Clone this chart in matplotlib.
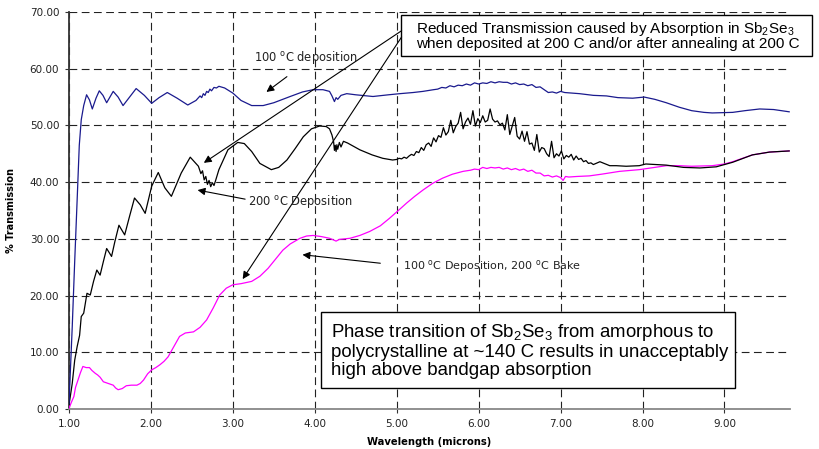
import matplotlib
matplotlib.use("Agg")
import matplotlib.pyplot as plt
from matplotlib.patches import Rectangle

plt.rcParams['mathtext.default'] = 'regular'

# ---------------- data ----------------
x_axis_ticks = [1.00, 2.00, 3.00, 4.00, 5.00, 6.00, 7.00, 8.00, 9.00]
y_axis_ticks = [0, 10, 20, 30, 40, 50, 60, 70]

# 100 C deposition (blue)
blue_x = [1.00, 1.01, 1.04, 1.07, 1.10, 1.126, 1.15, 1.18, 1.215, 1.25, 1.285, 1.33, 1.37, 1.415,
          1.46, 1.50, 1.54, 1.60, 1.66, 1.74, 1.82, 1.92, 2.01, 2.10, 2.20, 2.32, 2.45, 2.55,
          2.60, 2.62, 2.64, 2.66, 2.68, 2.70, 2.72, 2.74, 2.77, 2.80, 2.83, 2.90, 3.00, 3.10,
          3.23, 3.37, 3.50, 3.70, 3.85, 3.98, 4.10, 4.18, 4.21, 4.24, 4.26, 4.28, 4.32, 4.39,
          4.50, 4.71, 4.90, 5.04, 5.20, 5.32, 5.45,
          5.50, 5.55, 5.60, 5.65, 5.70, 5.75, 5.80, 5.85, 5.90, 5.95, 6.00, 6.05, 6.10, 6.15,
          6.20, 6.25, 6.30, 6.35, 6.40, 6.45, 6.50, 6.55, 6.60, 6.65, 6.70, 6.75, 6.80, 6.85,
          6.90, 6.95, 7.00, 7.05,
          7.23, 7.40, 7.56, 7.70, 7.88, 8.02, 8.15, 8.29, 8.45, 8.60, 8.75, 8.85, 9.10, 9.25,
          9.43, 9.60, 9.79]
blue_y = [1.0, 4.2, 14.5, 26.0, 36.9, 46.5, 51.0, 53.5, 55.4, 54.5, 52.9, 54.8, 56.1, 55.3,
          54.0, 55.0, 56.0, 55.0, 53.5, 55.0, 56.5, 55.3, 53.9, 54.9, 55.8, 54.8, 53.6, 54.4,
          55.2, 54.9, 55.6, 55.3, 56.0, 55.8, 56.4, 56.1, 56.7, 56.6, 56.9, 56.6, 55.7, 54.4,
          53.5, 53.5, 54.0, 55.1, 55.9, 56.3, 56.3, 56.0, 55.2, 54.2, 54.9, 54.6, 55.3, 55.6,
          55.4, 55.1, 55.4, 55.6, 55.8, 56.0, 56.3,
          56.4, 56.7, 56.6, 57.0, 56.8, 57.1, 57.0, 57.3, 57.1, 57.5, 57.3, 57.5, 57.4, 57.7,
          57.5, 57.7, 57.6, 57.6, 57.3, 57.5, 57.2, 57.3, 57.0, 57.2, 56.7, 56.8, 56.3, 55.8,
          55.9, 55.7, 56.0, 55.8,
          55.6, 55.3, 55.2, 54.9, 54.8, 55.0, 54.6, 54.0, 53.2, 52.6, 52.3, 52.2, 52.3, 52.6,
          52.9, 52.8, 52.4]

# 200 C deposition (black)
black_x = [1.00, 1.01, 1.04, 1.07, 1.10, 1.13, 1.15, 1.18, 1.22, 1.26, 1.30, 1.34, 1.38, 1.42,
           1.46, 1.52, 1.56, 1.61, 1.68, 1.74, 1.80, 1.87, 1.93, 2.01, 2.09, 2.17, 2.25, 2.37,
           2.48, 2.58, 2.61, 2.63, 2.65, 2.67, 2.69, 2.71, 2.73, 2.75, 2.77, 2.79, 2.83, 2.94,
           3.06, 3.14, 3.23, 3.33, 3.47, 3.56, 3.66, 3.76, 3.86, 3.96, 4.06, 4.14, 4.18, 4.21,
           4.23, 4.24, 4.25, 4.26, 4.27, 4.28, 4.30, 4.32, 4.35, 4.40, 4.55, 4.70, 4.83, 4.95,
           5.00, 5.03, 5.06, 5.09, 5.12, 5.15, 5.18, 5.21, 5.24, 5.27, 5.30, 5.33, 5.36, 5.39,
           5.42, 5.45, 5.48, 5.51, 5.54, 5.57, 5.60, 5.63, 5.66, 5.69, 5.72, 5.75, 5.78, 5.81,
           5.84, 5.87, 5.90, 5.93, 5.96, 5.99, 6.02, 6.05, 6.08, 6.11, 6.14, 6.17, 6.20, 6.23,
           6.26, 6.29, 6.32, 6.35, 6.38, 6.41, 6.44, 6.47, 6.50, 6.53, 6.56, 6.59, 6.62, 6.65,
           6.68, 6.71, 6.74, 6.77, 6.80, 6.83, 6.86, 6.89, 6.92, 6.95, 6.98, 7.01, 7.04, 7.07,
           7.10, 7.13, 7.16, 7.19, 7.22, 7.25, 7.28, 7.31, 7.34, 7.37, 7.40,
           7.48, 7.60, 7.68, 7.80, 7.96, 8.04, 8.29, 8.50, 8.70, 8.90, 9.10, 9.34, 9.55, 9.79]
black_y = [0.8, 1.6, 4.5, 8.6, 11.0, 13.0, 16.3, 16.9, 20.4, 20.1, 22.5, 24.5, 23.6, 26.0,
           28.3, 26.9, 29.5, 32.4, 30.7, 34.0, 37.2, 36.0, 34.5, 39.3, 41.7, 39.0, 37.5, 41.6,
           44.4, 42.8, 41.5, 42.0, 40.4, 41.0, 39.6, 40.3, 39.2, 39.9, 39.4, 40.3, 42.2, 45.7,
           47.0, 46.8, 45.4, 43.3, 42.2, 42.6, 43.9, 45.9, 48.0, 49.4, 49.9, 49.8, 49.4, 48.3,
           47.1, 45.6, 46.5, 45.4, 46.6, 45.8, 47.0, 46.2, 47.2, 46.9, 45.7, 44.8, 44.2, 43.9,
           44.0, 44.2, 44.1, 44.4, 44.2, 44.6, 44.9, 44.7, 45.4, 45.2, 46.1, 45.6, 46.6, 46.9,
           46.3, 47.8, 47.1, 48.2, 47.9, 49.6, 48.3, 48.9, 50.9, 48.7, 49.8, 50.4, 52.3, 49.4,
           50.6, 51.3, 50.2, 52.6, 49.9, 51.2, 50.5, 51.7, 50.6, 50.9, 52.9, 51.1, 50.6, 50.8,
           50.1, 50.4, 49.2, 51.9, 48.4, 49.9, 51.4, 48.1, 47.6, 49.0, 47.2, 48.9, 46.7, 46.9,
           45.6, 48.4, 45.3, 46.1, 45.9, 45.0, 44.5, 47.2, 44.3, 45.0, 44.6, 45.5, 44.1, 44.7,
           44.4, 44.9, 43.9, 44.6, 44.0, 44.2, 43.6, 43.8, 43.3, 43.4, 43.1,
           43.6, 42.9, 42.9, 42.8, 42.9, 43.2, 43.0, 42.6, 42.5, 42.7, 43.5, 44.8, 45.3, 45.5]

# 100 C deposition, 200 C bake (magenta)
mag_x = [1.00, 1.03, 1.06, 1.08, 1.11, 1.14, 1.17, 1.21, 1.25, 1.28, 1.32, 1.35, 1.38, 1.42,
         1.46, 1.50, 1.54, 1.57, 1.60, 1.65, 1.70, 1.76, 1.83, 1.87, 1.91, 1.96, 2.01, 2.06,
         2.11, 2.16, 2.21, 2.28, 2.35, 2.42, 2.52, 2.60, 2.68, 2.76, 2.84, 2.92, 3.00, 3.10,
         3.23, 3.33, 3.43, 3.52, 3.61, 3.70, 3.82, 3.90, 3.98, 4.08, 4.18, 4.23, 4.26, 4.30,
         4.43, 4.55, 4.67, 4.80, 4.91, 5.02, 5.12, 5.22, 5.32, 5.44, 5.56, 5.68, 5.81,
         5.90, 5.95, 6.00, 6.05, 6.10, 6.15, 6.20, 6.25, 6.30, 6.35, 6.40, 6.45, 6.50, 6.55,
         6.60, 6.65, 6.70, 6.75, 6.80, 6.85, 6.90, 6.95, 7.00, 7.03, 7.06,
         7.10, 7.20, 7.35, 7.50, 7.72, 7.96, 8.15, 8.29, 8.45, 8.60, 8.85, 9.00, 9.10, 9.34,
         9.55, 9.79]
mag_y = [0.1, 1.2, 2.2, 3.8, 5.1, 6.4, 7.5, 7.3, 7.3, 6.8, 6.3, 6.0, 5.6, 4.8,
         4.6, 4.4, 4.2, 3.7, 3.4, 3.6, 4.1, 4.2, 4.2, 4.5, 5.1, 6.2, 6.9, 7.3,
         7.8, 8.4, 9.2, 11.0, 12.8, 13.4, 13.6, 14.4, 15.7, 17.8, 20.1, 21.3, 21.9, 22.1,
         22.5, 23.4, 24.8, 26.4, 28.0, 29.1, 30.1, 30.5, 30.6, 30.4, 30.1, 29.8, 29.6, 29.9,
         30.1, 30.6, 31.3, 32.3, 33.6, 35.0, 36.3, 37.5, 38.6, 39.8, 40.7, 41.4, 41.9,
         42.1, 42.3, 42.2, 42.6, 42.4, 42.6, 42.5, 42.6, 42.3, 42.5, 42.2, 42.4, 42.1, 42.3,
         41.9, 42.1, 41.6, 41.6, 41.1, 41.2, 40.9, 41.1, 40.8, 40.3, 41.0,
         40.9, 41.0, 41.1, 41.4, 41.9, 42.2, 42.6, 42.9, 42.9, 42.8, 42.9, 43.2, 43.6, 44.8,
         45.3, 45.5]

# ---------------- figure ----------------
fig = plt.figure(figsize=(8.19, 4.49), dpi=100)
ax = fig.add_axes([0.0842, 0.0891, 0.8804, 0.8842])

ax.plot(mag_x, mag_y, color='#ff00ff', lw=0.9, zorder=3)
ax.plot(black_x, black_y, color='black', lw=0.9, zorder=4)
ax.plot(blue_x, blue_y, color='#1a1a8e', lw=0.9, zorder=5)

ax.set_xlim(1.0, 9.8)
ax.set_ylim(0, 70)
ax.set_xticks(x_axis_ticks)
ax.set_yticks(y_axis_ticks)
ax.set_xticklabels([f"{v:.2f}" for v in x_axis_ticks])
ax.set_yticklabels([f"{v:.2f}" for v in y_axis_ticks])

ax.grid(True, color='#222222', lw=0.8, linestyle=(0, (7, 4)))
ax.set_axisbelow(True)

for s in ('top', 'right'):
    ax.spines[s].set_visible(False)
ax.spines['left'].set_color('#333333')
ax.spines['left'].set_linewidth(1.3)
ax.spines['bottom'].set_color('#888888')
ax.spines['bottom'].set_linewidth(1.3)

ax.tick_params(axis='both', length=3, width=0.8, color='#333333',
               labelsize=7.5, labelcolor='#222222', pad=4)
for lab in ax.get_xticklabels() + ax.get_yticklabels():
    lab.set_family('DejaVu Sans')

ax.set_xlabel('Wavelength (microns)', fontsize=7.2, fontweight='bold',
              family='DejaVu Sans', labelpad=6)
ax.set_ylabel('% Transmission', fontsize=7, fontweight='bold',
              family='DejaVu Sans', labelpad=10)

arrow = dict(arrowstyle='-|>', color='black', lw=0.8, mutation_scale=11,
             shrinkA=0, shrinkB=0)

# top-right box
ax.add_patch(Rectangle((5.05, 62.3), 5.02, 7.2, fill=True, facecolor='white',
                       edgecolor='black', lw=1.0, clip_on=False, zorder=6))
ax.text(5.23, 65.85, 'Reduced Transmission caused by Absorption in Sb$_2$Se$_3$\n'
        'when deposited at 200 C and/or after annealing at 200 C',
        family='Liberation Sans', fontsize=11.0, ha='left', va='center',
        linespacing=0.88, zorder=7, clip_on=False)
ax.annotate('', xy=(2.646, 43.4), xytext=(5.06, 66.7), arrowprops=arrow, zorder=6)
ax.annotate('', xy=(3.12, 22.9), xytext=(5.06, 65.6), arrowprops=arrow, zorder=6)

# small labels
ax.text(3.89, 61.9, '100 $^{o}$C deposition', family='DejaVu Sans', fontsize=8.3,
        ha='center', va='center', color='#222222', zorder=6)
ax.annotate('', xy=(3.41, 55.9), xytext=(3.66, 58.6), arrowprops=arrow, zorder=6)

ax.text(3.19, 36.5, '200 $^{o}$C Deposition', family='DejaVu Sans', fontsize=8.3,
        ha='left', va='center', color='#222222', zorder=6)
ax.annotate('', xy=(2.57, 38.6), xytext=(3.15, 37.0), arrowprops=arrow, zorder=6)

ax.text(5.08, 25.2, '100 $^{o}$C Deposition, 200 $^{o}$C Bake', family='DejaVu Sans',
        fontsize=8.0, ha='left', va='center', color='#222222', zorder=6)
ax.annotate('', xy=(3.85, 27.2), xytext=(4.80, 25.7), arrowprops=arrow, zorder=6)

# bottom box
ax.add_patch(Rectangle((4.073, 3.7), 5.05, 13.4, fill=True, facecolor='white',
                       edgecolor='black', lw=1.0, zorder=6))
ax.text(4.195, 10.3, 'Phase transition of Sb$_2$Se$_3$ from amorphous to\n'
        'polycrystalline at ~140 C results in unacceptably\n'
        'high above bandgap absorption',
        family='Liberation Sans', fontsize=13.4, ha='left', va='center',
        linespacing=1.08, zorder=7)

fig.savefig('out.png', dpi=100, facecolor='white')
